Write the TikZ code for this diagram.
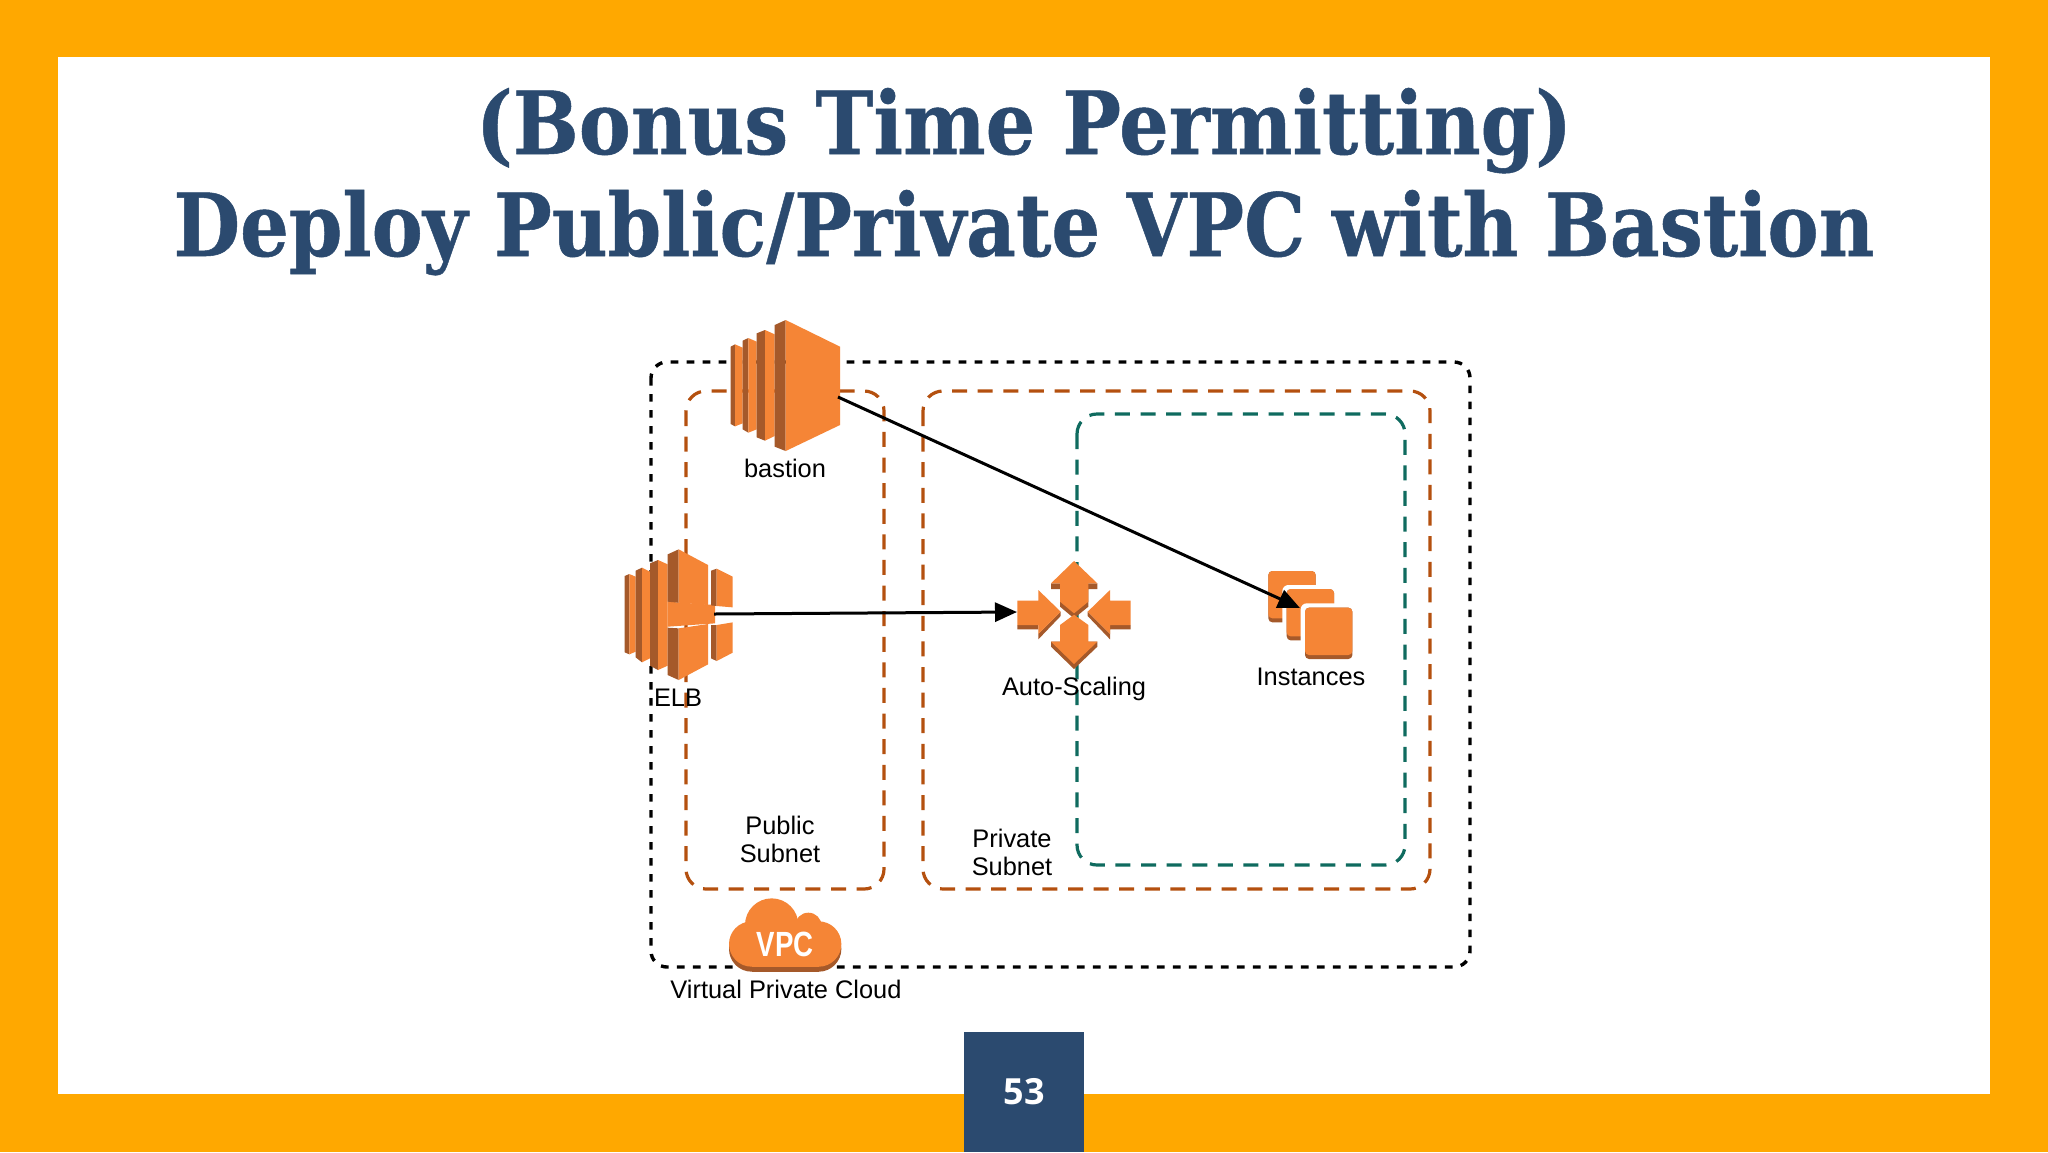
\documentclass[tikz,border=0pt]{standalone}
\usepackage{fontspec}
\usepackage{graphicx}
\usetikzlibrary{arrows.meta}
\setmainfont{Liberation Sans}
\newfontfamily\titlefont[BoldFeatures={FakeBold=0.6}]{DejaVu Serif}
\newfontfamily\numfont{Open Sans}
\definecolor{frameor}{HTML}{FFA800}
\definecolor{navy}{HTML}{2B4A6F}
\definecolor{iconface}{HTML}{F58536}
\definecolor{icondark}{HTML}{A5592A}
\definecolor{subnetor}{HTML}{B4500F}
\definecolor{zonegreen}{HTML}{0F6B5F}
\tikzset{
  vpcbox/.style={draw=black,line width=1.7pt,rounded corners=8pt,dash pattern=on 3.8pt off 4.2pt},
  subnetbox/.style={draw=subnetor,line width=1.6pt,rounded corners=10pt,dash pattern=on 7.5pt off 5.3pt},
  zonebox/.style={draw=zonegreen,line width=1.6pt,rounded corners=10pt,dash pattern=on 7.5pt off 5.3pt},
  face/.style={fill=iconface,draw=none},
  dark/.style={fill=icondark,draw=none},
  lbl/.style={font=\fontsize{12.7}{14}\selectfont,text=black,inner sep=0pt,align=center},
  titletext/.style={font=\titlefont\bfseries\fontsize{43.5}{50}\selectfont,text=navy,inner sep=0pt,anchor=base},
  conn/.style={draw=black,line width=1.5pt,-{Triangle[length=11pt,width=9.5pt]}},
  zoomA/.style={shift={(620,300)},x=0.16667pt,y=-0.16667pt},
  zoomB/.style={shift={(1000,540)},x=0.16667pt,y=-0.16667pt},
  zoomC/.style={shift={(640,800)},x=0.16667pt,y=-0.16667pt}
}
\newcommand{\slab}[9]{%
  \path[dark] (#1,#4) -- (#2,#5) -- (#2,#8) -- (#1,#7) -- cycle;
  \path[face] (#2,#5) -- (#3,#6) -- (#3,#9) -- (#2,#8) -- cycle;}
\begin{document}
\begin{tikzpicture}[x=0.5pt,y=-0.5pt]
\useasboundingbox (0,0) rectangle (2048,1152);
\fill[frameor] (0,0) rectangle (2048,1152);
\fill[white] (58,57) rectangle (1990,1094);

\node[titletext] (title1) at (1024,154) {\scalebox{0.897}[1]{(Bonus Time Permitting)}};
\node[titletext] (title2) at (1024,256) {\scalebox{0.882}[1]{Deploy Public/Private VPC with Bastion}};

\draw[vpcbox] (651,362) rectangle (1470,967);
\draw[subnetbox] (686,391) rectangle (884,889);
\draw[subnetbox] (923,391) rectangle (1430,889);
\draw[zonebox] (1077,414) rectangle (1405,865);

% bastion icon
\begin{scope}[zoomA]
\slab{332}{345}{368}{140}{133}{143}{372}{379}{370}
\slab{368}{385}{410}{122}{114}{125}{388}{398}{388}
\slab{410}{435}{464}{100}{90}{103}{412}{422}{408}
\path[dark] (464,75) -- (497,60) -- (497,453) -- (464,440) -- cycle;
\path[face] (497,60) -- (660,140) -- (660,375) -- (497,453) -- cycle;
% ELB icon
\slab{14}{28}{47}{828}{822}{830}{1057}{1063}{1055}
\slab{47}{66}{90}{812}{803}{815}{1072}{1087}{1075}
\slab{90}{114}{143}{790}{780}{793}{1097}{1110}{1097}
\path[face] (143,905) -- (285,915) -- (285,970) -- (143,980) -- cycle;
\path[dark] (143,763) -- (176,748) -- (176,908) -- (143,905) -- cycle;
\path[face] (176,748) -- (264,795) -- (264,915) -- (176,908) -- cycle;
\path[dark] (143,983) -- (176,985) -- (176,1140) -- (143,1125) -- cycle;
\path[face] (176,985) -- (264,972) -- (264,1093) -- (176,1140) -- cycle;
\path[dark] (273,812) -- (290,806) -- (290,918) -- (273,916) -- cycle;
\path[face] (290,806) -- (338,830) -- (338,922) -- (290,918) -- cycle;
\path[dark] (273,975) -- (290,975) -- (290,1083) -- (273,1075) -- cycle;
\path[face] (290,975) -- (338,967) -- (338,1058) -- (290,1083) -- cycle;
\end{scope}

% auto-scaling icon
\begin{scope}[zoomB]
\path[dark] (52,255) -- (115,255) -- (115,282) -- (182,215) -- (182,228) -- (115,298) -- (115,268) -- (52,268) -- cycle;
\path[face] (52,182) -- (115,182) -- (115,150) -- (182,215) -- (115,282) -- (115,255) -- (52,255) -- cycle;
\path[dark] (392,255) -- (330,255) -- (330,282) -- (263,215) -- (263,228) -- (330,298) -- (330,268) -- (392,268) -- cycle;
\path[face] (392,182) -- (330,182) -- (330,150) -- (263,215) -- (330,282) -- (330,255) -- (392,255) -- cycle;
\path[dark] (153,130) -- (153,147) -- (180,147) -- (180,200) -- (222,235) -- (265,200) -- (265,147) -- (292,147) -- (292,130) -- cycle;
\path[face] (222,63) -- (292,130) -- (265,130) -- (265,185) -- (222,220) -- (180,185) -- (180,130) -- (153,130) -- cycle;
\path[dark] (153,305) -- (153,320) -- (222,387) -- (292,320) -- (292,305) -- cycle;
\path[face] (222,224) -- (265,255) -- (265,305) -- (292,305) -- (222,372) -- (153,305) -- (180,305) -- (180,255) -- cycle;
% instances icon
\fill[icondark,rounded corners=2pt] (805,93) rectangle (947,247);
\fill[iconface,rounded corners=2pt] (805,93) rectangle (947,235);
\fill[white,rounded corners=3pt] (847,135) rectangle (1010,310);
\fill[icondark,rounded corners=2pt] (860,147) rectangle (1002,301);
\fill[iconface,rounded corners=2pt] (860,147) rectangle (1002,289);
\fill[white,rounded corners=3pt] (902,190) rectangle (1065,365);
\fill[icondark,rounded corners=2pt] (915,203) rectangle (1057,357);
\fill[iconface,rounded corners=2pt] (915,203) rectangle (1057,345);
\end{scope}

% vpc cloud icon
\begin{scope}[zoomC]
\begin{scope}[yshift=-2.5pt]
\fill[icondark] (335,432) circle [radius=68];
\fill[icondark] (536,432) circle [radius=68];
\fill[icondark] (335,432) rectangle (536,500);
\end{scope}
\fill[iconface] (335,432) circle [radius=68];
\fill[iconface] (536,432) circle [radius=68];
\fill[iconface] (395,375) circle [radius=80];
\fill[iconface] (505,378) circle [radius=40];
\fill[iconface] (335,400) rectangle (536,500);
\end{scope}
\node[inner sep=0pt,text=white,font=\bfseries\fontsize{17.5}{18}\selectfont] (vpclogo) at (785,944) {\scalebox{0.79}[1]{VPC}};

\node[lbl] (bastionlbl) at (785,468) {bastion};
\node[lbl] (elblbl) at (678,698) {ELB};
\node[lbl] (autolbl) at (1074,689) {Auto-Scaling};
\node[lbl] (instlbl) at (1311,677) {Instances};
\node[lbl] (publbl) at (780,839) {Public\\Subnet};
\node[lbl] (privlbl) at (1012,852) {Private\\Subnet};
\node[lbl] (vpclbl) at (786,989) {Virtual Private Cloud};

\coordinate (bastionout) at (838,397);
\coordinate (instin) at (1300,608);
\coordinate (elbout) at (714,614);
\coordinate (autoin) at (1017,612);
\draw[conn] (bastionout) -- (instin);
\draw[conn] (elbout) -- (autoin);

\fill[navy] (964,1032) rectangle (1084,1152);
\node[inner sep=0pt,text=white,font=\numfont\bfseries\fontsize{18}{20}\selectfont] (pagenum) at (1024,1092) {53};
\end{tikzpicture}
\end{document}
